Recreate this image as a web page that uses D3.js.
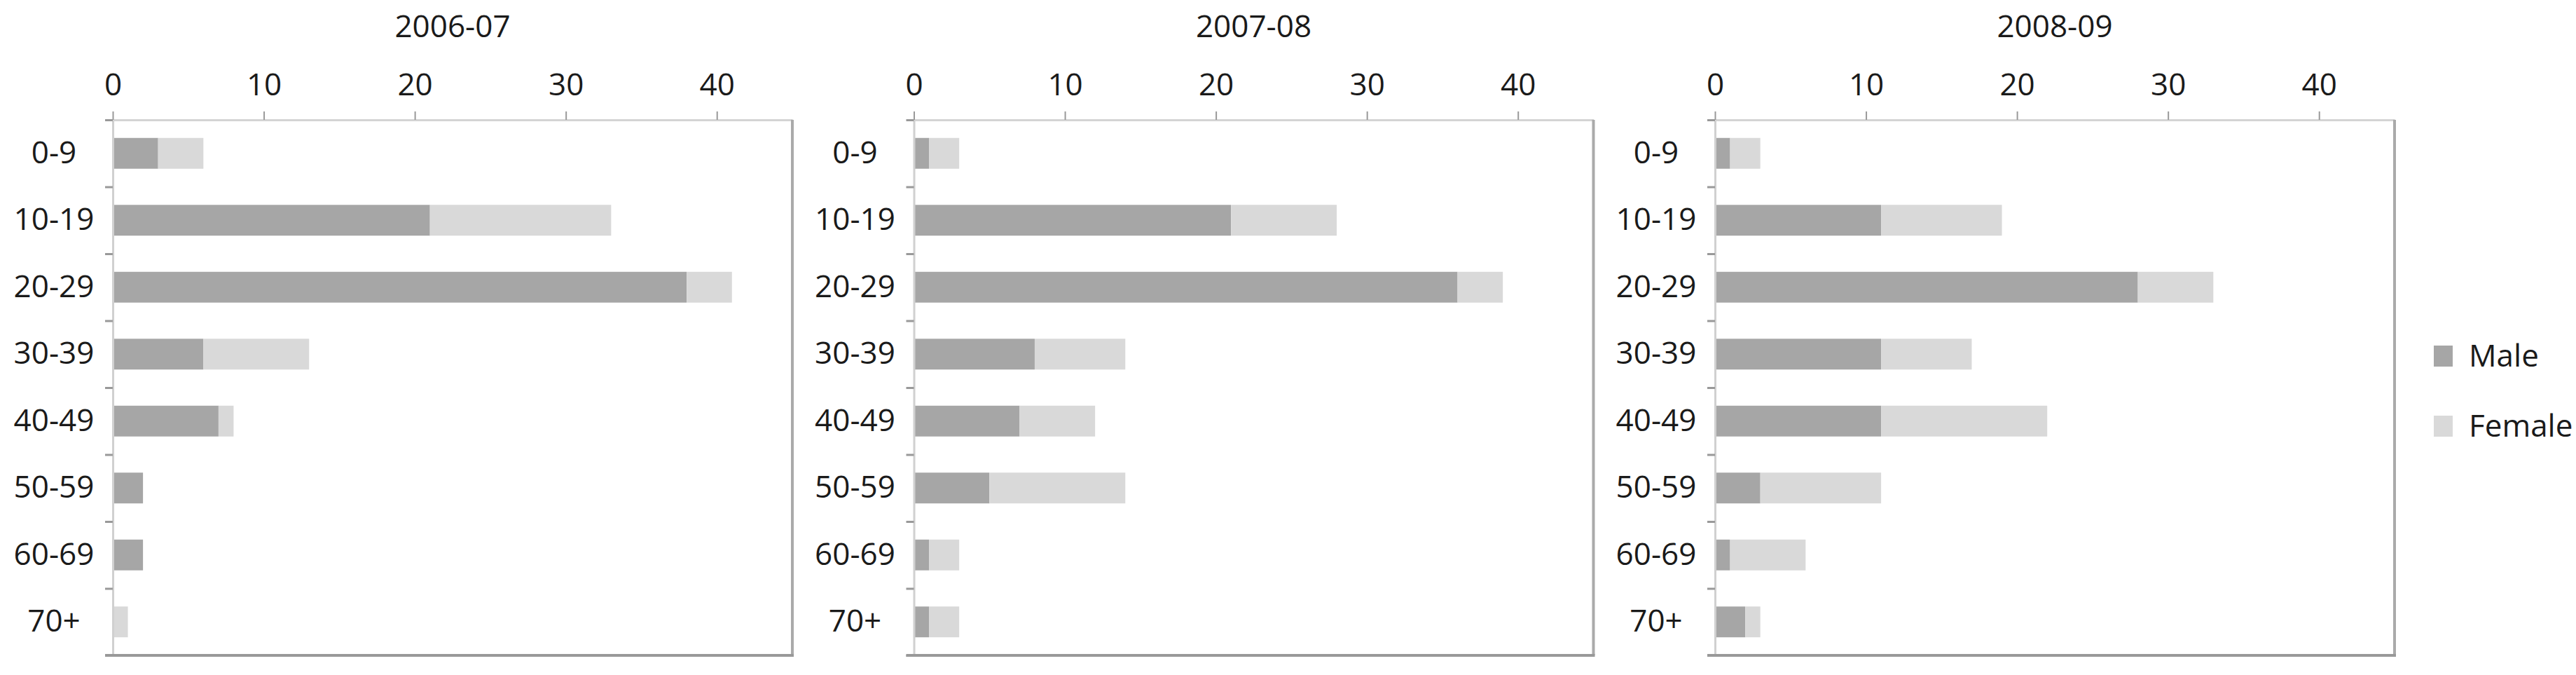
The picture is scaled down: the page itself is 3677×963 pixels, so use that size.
<!DOCTYPE html>
<html>
<head>
<meta charset="utf-8">
<script src="https://cdn.jsdelivr.net/npm/d3@7"></script>
<style>
  body { margin: 0; background: #fff; }
  svg text { font-family: "Open Sans", sans-serif; fill: #1a1a1a; }
</style>
</head>
<body>
<svg id="chart"></svg>
<script>
// DATA
const ageGroups = ["0-9", "10-19", "20-29", "30-39", "40-49", "50-59", "60-69", "70+"];
const years = ["2006-07", "2007-08", "2008-09"];
const seriesNames = ["Male", "Female"];
const male0607 = [3, 21, 38, 6, 7, 2, 2, 0];
const female0607 = [3, 12, 3, 7, 1, 0, 0, 1];
const male0708 = [1, 21, 36, 8, 7, 5, 1, 1];
const female0708 = [2, 7, 3, 6, 5, 9, 2, 2];
const male0809 = [1, 11, 28, 11, 11, 3, 1, 2];
const female0809 = [2, 8, 5, 6, 11, 8, 5, 1];
const xTicks = [0, 10, 20, 30, 40];

const maleByYear = [male0607, male0708, male0809];
const femaleByYear = [female0607, female0708, female0809];

const W = 3677, H = 963;
const margin = {top: 171, left: 161};
const plotW = 970, plotH = 764;
const colors = {Male: "#a6a6a6", Female: "#d9d9d9"};

const svg = d3.select("#chart").attr("width", W).attr("height", H);

// panel placement
const panelX = d3.scaleBand().domain(years).range([margin.left, margin.left + 3 * 1143.5]);

const x = d3.scaleLinear().domain([0, 45]).range([0, plotW]);
const y = d3.scaleBand().domain(ageGroups).range([0, plotH]);
const sep = d3.scaleLinear().domain([0, ageGroups.length]).range([0, plotH]);
const barH = y.bandwidth() * 0.46;

years.forEach((yr, i) => {
  const g = svg.append("g").attr("transform", `translate(${panelX(yr)},${margin.top})`);

  // title
  g.append("text")
    .attr("x", plotW / 2).attr("y", -118)
    .attr("text-anchor", "middle")
    .attr("font-size", "44px")
    .text(yr);

  // bars (stacked male then female)
  const rows = ageGroups.map((c, j) => ({cat: c, Male: maleByYear[i][j], Female: femaleByYear[i][j]}));
  const stacked = d3.stack().keys(seriesNames)(rows);
  g.selectAll("g.series").data(stacked).join("g")
    .attr("fill", d => colors[d.key])
    .selectAll("rect").data(d => d).join("rect")
      .attr("x", d => x(d[0]))
      .attr("width", d => x(d[1]) - x(d[0]))
      .attr("y", d => y(d.data.cat) + (y.bandwidth() - barH) / 2)
      .attr("height", barH);

  // left axis line + separator ticks
  const sepAxis = g.append("g")
    .call(d3.axisLeft(sep).ticks(ageGroups.length).tickSize(11).tickSizeOuter(0).tickFormat(""));
  sepAxis.select(".domain").attr("stroke", "#d0d0d0").attr("stroke-width", 3);
  sepAxis.selectAll(".tick line").attr("stroke", "#999").attr("stroke-width", 3);

  // category labels
  const yAxis = g.append("g")
    .call(d3.axisLeft(y).tickSize(0));
  yAxis.select(".domain").remove();
  yAxis.selectAll("text")
    .attr("x", -84)
    .attr("text-anchor", "middle")
    .attr("font-size", "44px")
    .attr("font-family", "Open Sans, sans-serif")
    .attr("fill", "#1a1a1a");

  // top value axis
  const xAxis = g.append("g")
    .call(d3.axisTop(x).tickValues(xTicks).tickSize(12).tickSizeOuter(0).tickPadding(23));
  xAxis.select(".domain").attr("stroke", "#d4d4d4").attr("stroke-width", 3);
  xAxis.selectAll(".tick line").attr("stroke", "#999").attr("stroke-width", 2);
  xAxis.selectAll("text")
    .attr("font-size", "44px")
    .attr("font-family", "Open Sans, sans-serif")
    .attr("fill", "#1a1a1a");

  // right and bottom border
  g.append("line")
    .attr("x1", x(45)).attr("x2", x(45))
    .attr("y1", 0).attr("y2", plotH)
    .attr("stroke", "#aaa").attr("stroke-width", 4);
  g.append("line")
    .attr("x1", -11).attr("x2", x(45) + 2)
    .attr("y1", plotH).attr("y2", plotH)
    .attr("stroke", "#999").attr("stroke-width", 4);
});

// legend
const legend = svg.append("g").attr("transform", "translate(3474,493)");
const item = legend.selectAll("g").data(seriesNames).join("g")
  .attr("transform", (d, i) => `translate(0,${i * 100})`);
item.append("rect").attr("width", 27).attr("height", 30).attr("fill", d => colors[d]);
item.append("text")
  .attr("x", 50).attr("y", 15).attr("dy", "0.35em")
  .attr("font-size", "44px")
  .text(d => d);
</script>
</body>
</html>
